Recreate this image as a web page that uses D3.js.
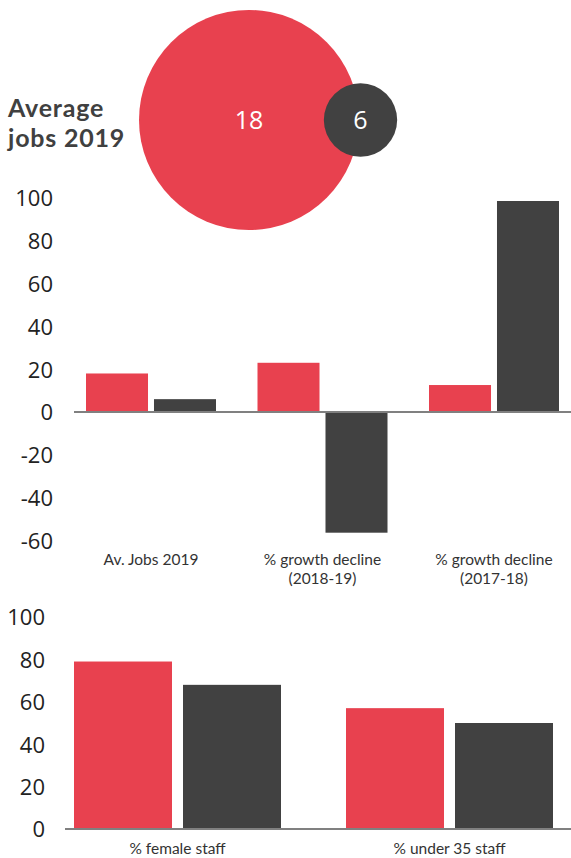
<!DOCTYPE html>
<html>
<head>
<meta charset="utf-8">
<script src="https://cdn.jsdelivr.net/npm/d3@7"></script>
<style>
  html, body { margin: 0; padding: 0; background: #fff; }
  svg { display: block; font-family: "Open Sans", "Noto Sans", sans-serif; }
</style>
</head>
<body>
<svg id="chart" width="571" height="858"></svg>
<script>
// ---- Data ----
const seriesNames = ["Series A", "Series B"];
const seriesColors = ["#e8414f", "#414141"];

const bubbleTitle = ["Average", "jobs 2019"];
const bubbleValues = [18, 6];

const chart1Categories = [["Av. Jobs 2019"], ["% growth decline", "(2018-19)"], ["% growth decline", "(2017-18)"]];
const chart1Red = [18, 23, 12.6];
const chart1Dark = [6, -56.4, 98.6];
const chart1Ticks = [-60, -40, -20, 0, 20, 40, 60, 80, 100];

const chart2Categories = ["% female staff", "% under 35 staff"];
const chart2Red = [79, 57];
const chart2Dark = [68, 50];
const chart2Ticks = [0, 20, 40, 60, 80, 100];

const svg = d3.select("#chart");

// ---- Bubbles ----
const rScale = d3.scaleLinear().domain([0, 18]).range([0, 110]);
const bubbleX = [249, 360.5];
const bubbleY = 120;
const bubbles = svg.append("g");
bubbleValues.forEach((v, i) => {
  bubbles.append("circle")
    .attr("cx", bubbleX[i]).attr("cy", bubbleY)
    .attr("r", rScale(v))
    .attr("fill", seriesColors[i]);
  bubbles.append("text")
    .attr("x", bubbleX[i]).attr("y", bubbleY + 9)
    .attr("text-anchor", "middle")
    .attr("fill", "#fff")
    .attr("font-size", 25)
    .text(v);
});
bubbleTitle.forEach((ln, i) => {
  svg.append("text")
    .attr("x", 8).attr("y", 117 + i * 30)
    .attr("font-family", "Lato, sans-serif")
    .attr("font-size", 25).attr("font-weight", 700).attr("fill", "#404040")
    .attr("letter-spacing", 0.8)
    .text(ln);
});

function drawChart(opts) {
  const { cats, red, dark, ticks, yDomain, yRange, xRange, padIn, padOut, innerGap,
          tickX, lineX0, labelY } = opts;
  const g = svg.append("g");
  const y = d3.scaleLinear().domain(yDomain).range(yRange);
  const x0 = d3.scaleBand().domain(d3.range(cats.length)).range(xRange)
    .paddingInner(padIn).paddingOuter(padOut);
  const x1 = d3.scaleBand().domain([0, 1]).range([0, x0.bandwidth()]).paddingInner(innerGap);

  // y axis labels
  const yAxis = d3.axisLeft(y).tickValues(ticks).tickSize(0).tickPadding(0)
    .tickFormat(d => String(d));
  const ya = g.append("g").attr("transform", `translate(${tickX},0)`).call(yAxis);
  ya.select(".domain").remove();
  ya.selectAll("text")
    .attr("font-family", "'Open Sans', sans-serif")
    .attr("font-size", 22)
    .attr("fill", "#222")
    .attr("dy", "0.36em");

  // bars
  const rows = cats.map((c, i) => [red[i], dark[i]]);
  rows.forEach((vals, i) => {
    vals.forEach((v, j) => {
      g.append("rect")
        .attr("x", x0(i) + x1(j))
        .attr("width", x1.bandwidth())
        .attr("y", y(Math.max(0, v)))
        .attr("height", Math.abs(y(v) - y(0)))
        .attr("fill", seriesColors[j]);
    });
  });

  // zero line
  g.append("line")
    .attr("x1", lineX0).attr("x2", 571)
    .attr("y1", y(0)).attr("y2", y(0))
    .attr("stroke", "#808080").attr("stroke-width", 2);

  // category labels
  cats.forEach((c, i) => {
    const lines = Array.isArray(c) ? c : [c];
    lines.forEach((ln, k) => {
      g.append("text")
        .attr("text-anchor", "middle")
        .attr("font-family", "Lato, sans-serif")
        .attr("font-size", 15.5)
        .attr("fill", "#333")
        .attr("x", x0(i) + x0.bandwidth() / 2)
        .attr("y", labelY + k * 19)
        .text(ln);
    });
  });
}

drawChart({
  cats: chart1Categories, red: chart1Red, dark: chart1Dark, ticks: chart1Ticks,
  yDomain: [0, 100], yRange: [412, 198],
  xRange: [65.25, 579.75], padIn: 0.242, padOut: 0.121, innerGap: 0.088,
  tickX: 53, lineX0: 74, labelY: 565
});

drawChart({
  cats: chart2Categories, red: chart2Red, dark: chart2Dark, ticks: chart2Ticks,
  yDomain: [0, 100], yRange: [829, 617],
  xRange: [41.5, 585.5], padIn: 0.239, padOut: 0.1195, innerGap: 0.101,
  tickX: 45, lineX0: 65, labelY: 854
});
</script>
</body>
</html>
